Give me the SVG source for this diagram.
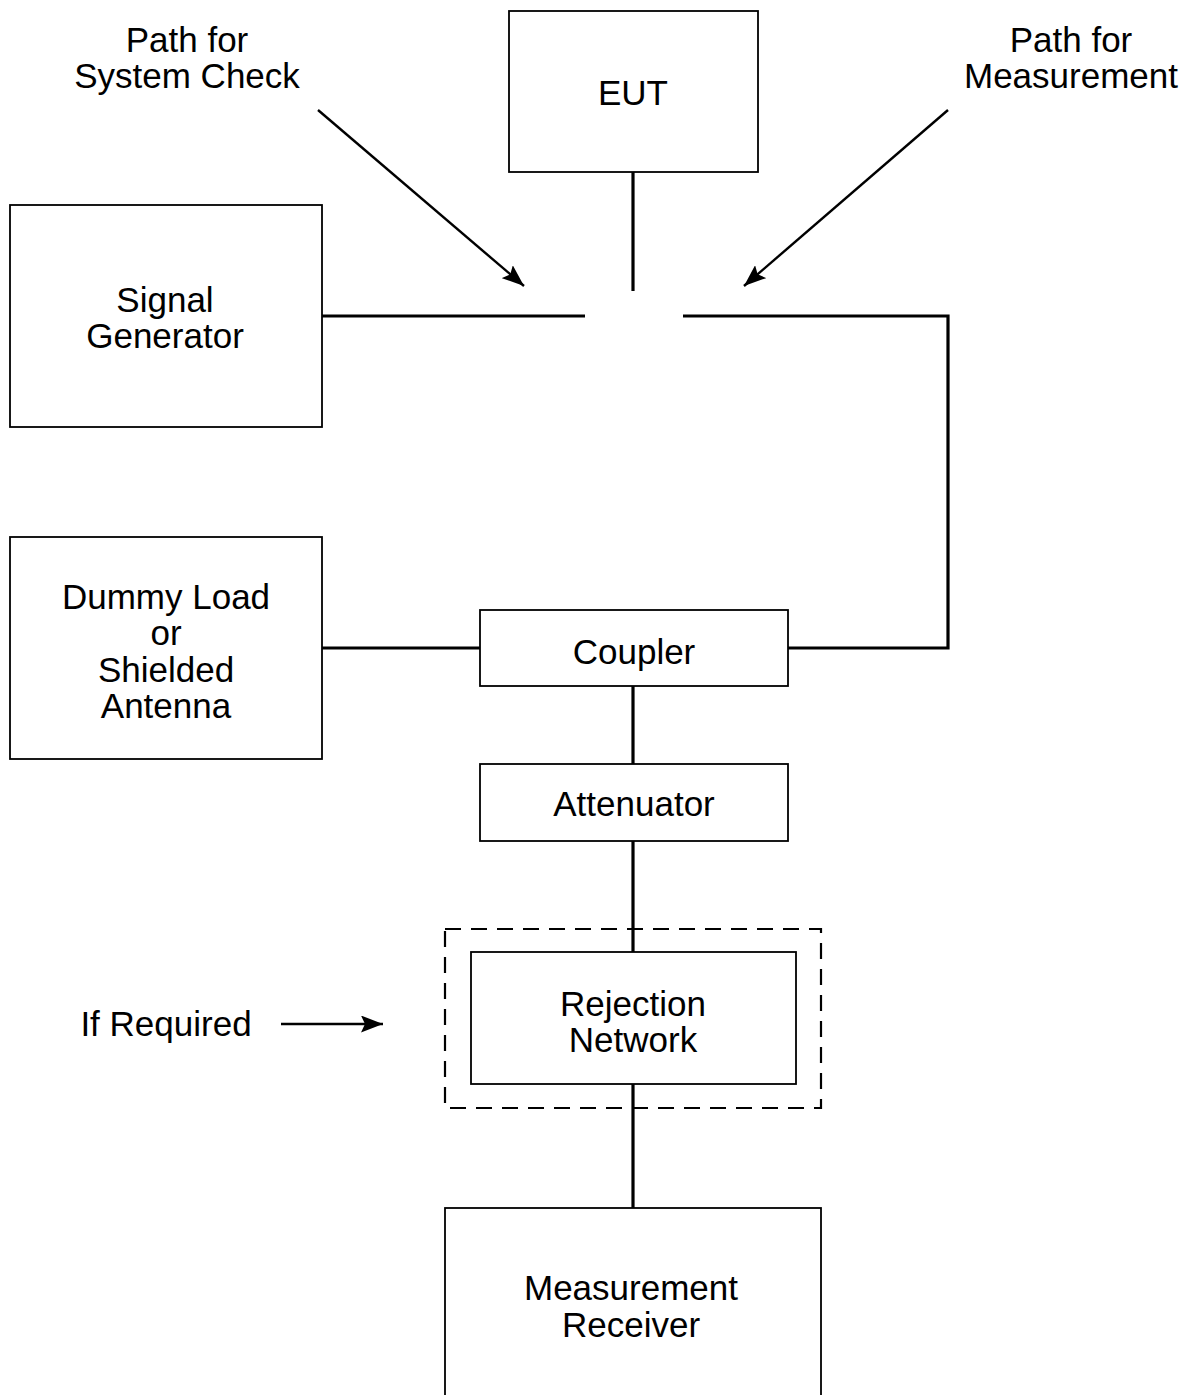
<svg xmlns="http://www.w3.org/2000/svg" width="1190" height="1395" viewBox="0 0 1190 1395">
<style>
.box{fill:#fff;stroke:#000;stroke-width:1.8}
.dash{fill:none;stroke:#000;stroke-width:2.2;stroke-dasharray:16 10}
.wire{fill:none;stroke:#000;stroke-width:3.2}
.ptr{fill:none;stroke:#000;stroke-width:2.4}
text{font-family:"Liberation Sans",Arial,sans-serif;font-size:35px;text-anchor:middle;fill:#000}
</style>
<defs>
<marker id="ahl" viewBox="0 0 22 17" refX="22" refY="8.5" markerWidth="22" markerHeight="17" markerUnits="userSpaceOnUse" orient="auto">
<path d="M0,0 L22,8.5 L0,17 L4,8.5 z" fill="#000"/>
</marker>
</defs>
<rect width="1190" height="1395" fill="#fff"/>
<g id="connectors">
<line class="wire" x1="633" y1="172" x2="633" y2="291"/>
<line class="wire" x1="322" y1="316" x2="585" y2="316"/>
<polyline class="wire" points="683,316 948,316 948,648 788,648"/>
<line class="wire" x1="322" y1="648" x2="480" y2="648"/>
<line class="wire" x1="633" y1="686" x2="633" y2="764"/>
<line class="wire" x1="633" y1="841" x2="633" y2="952"/>
<line class="wire" x1="633" y1="1084" x2="633" y2="1208"/>
<line class="ptr" x1="318" y1="110" x2="524" y2="286" marker-end="url(#ahl)"/>
<line class="ptr" x1="948" y1="110" x2="744" y2="286" marker-end="url(#ahl)"/>
<line class="ptr" x1="281" y1="1024" x2="383" y2="1024" marker-end="url(#ahl)"/>
</g>
<g id="label-system-check">
<text x="187" y="52">Path for</text>
<text x="187" y="88">System Check</text>
</g>
<g id="label-measurement">
<text x="1071" y="52">Path for</text>
<text x="1071" y="88">Measurement</text>
</g>
<g id="eut">
<rect class="box" x="509" y="11" width="249" height="161"/>
<text x="633" y="105">EUT</text>
</g>
<g id="signal-generator">
<rect class="box" x="10" y="205" width="312" height="222"/>
<text x="165" y="312">Signal</text>
<text x="165" y="348">Generator</text>
</g>
<g id="dummy-load">
<rect class="box" x="10" y="537" width="312" height="222"/>
<text x="166" y="609">Dummy Load</text>
<text x="166" y="645">or</text>
<text x="166" y="682">Shielded</text>
<text x="166" y="718">Antenna</text>
</g>
<g id="coupler">
<rect class="box" x="480" y="610" width="308" height="76"/>
<text x="634" y="664">Coupler</text>
</g>
<g id="attenuator">
<rect class="box" x="480" y="764" width="308" height="77"/>
<text x="634" y="816">Attenuator</text>
</g>
<g id="if-required-group">
<rect class="dash" x="445" y="929" width="376" height="179"/>
</g>
<g id="rejection-network">
<rect class="box" x="471" y="952" width="325" height="132"/>
<text x="633" y="1016">Rejection</text>
<text x="633" y="1052">Network</text>
</g>
<g id="label-if-required">
<text x="166" y="1036">If Required</text>
</g>
<g id="measurement-receiver">
<rect class="box" x="445" y="1208" width="376" height="200"/>
<text x="631" y="1300">Measurement</text>
<text x="631" y="1337">Receiver</text>
</g>
</svg>
